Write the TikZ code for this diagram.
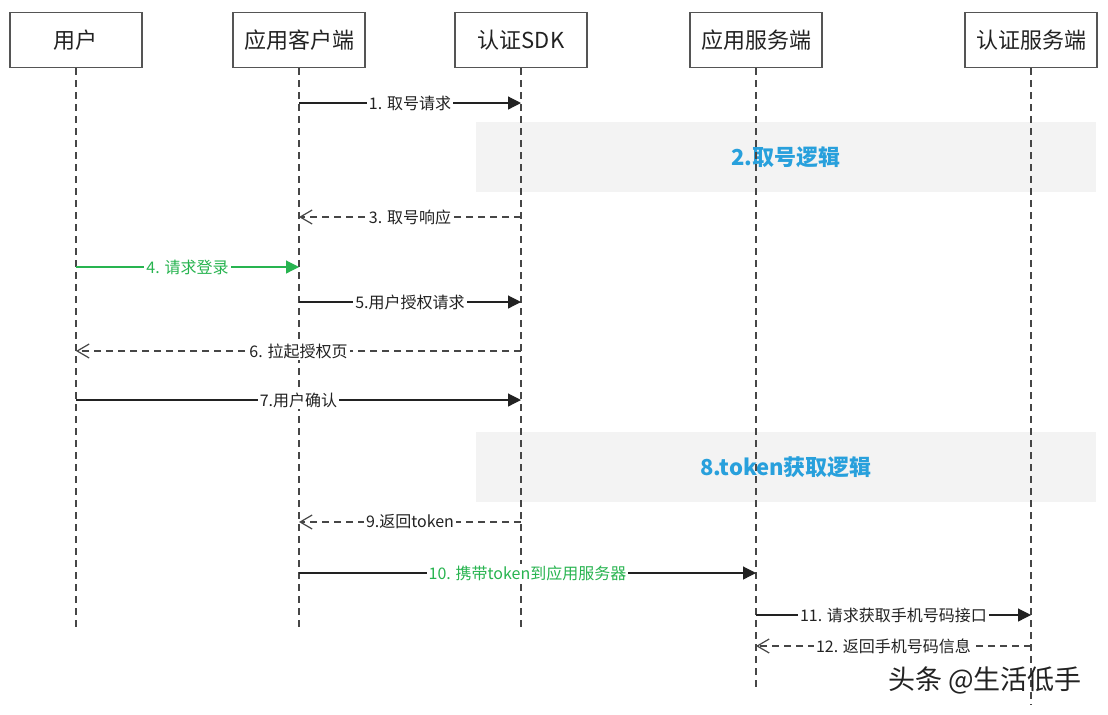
\documentclass[tikz,border=0pt]{standalone}
\usepackage{fontspec}
\setmainfont{Noto Sans CJK SC}
\usetikzlibrary{arrows.meta}

\begin{document}
\begin{tikzpicture}[x=0.5pt, y=-0.5pt,
    actor/.style={draw=boxline, line width=0.7pt, fill=white, minimum width=66pt,
      minimum height=27.5pt, inner sep=0pt, text=textcol, font=\fontsize{11}{12}\selectfont},
    lifeline/.style={draw=lifecol, line width=0.6pt, dash pattern=on 3.5pt off 2.5pt},
    call/.style={draw=textcol, line width=0.6pt, -{Triangle[length=6.5pt, width=6.5pt]}},
    reply/.style={draw=lifecol, line width=0.6pt, dash pattern=on 3.5pt off 2.5pt,
      -{Straight Barb[length=6pt, width=7pt, line width=0.6pt]}},
    lbl/.style={fill=white, inner sep=1pt, text=textcol, font=\fontsize{8}{9}\selectfont},
    band/.style={fill=bandgray},
    note/.style={text=notecol, font=\fontsize{11}{12}\selectfont\bfseries},
    watermark/.style={text=textcol, font=\fontsize{13.5}{14}\selectfont}]

    % Define the colors
    \definecolor{boxline}{RGB}{85, 85, 85}
    \definecolor{textcol}{RGB}{34, 34, 34}
    \definecolor{lifecol}{RGB}{70, 70, 70}
    \definecolor{bandgray}{RGB}{243, 243, 243}
    \definecolor{notecol}{RGB}{40, 160, 220}
    \definecolor{greencol}{RGB}{40, 180, 80}

    % Page and its margins
    \fill[white] (0,0) rectangle (1108,714);
    \useasboundingbox (0,0) rectangle (1108,714);

    % Draw the logic bands
    \fill[band] (476,122) rectangle (1096,192);
    \fill[band] (476,432) rectangle (1096,502);
    \node[note] (logic1) at (786,157) {2.取号逻辑};
    \node[note] (logic2) at (786,467) {8.token获取逻辑};

    % Draw the participants
    \node[actor] (user) at (76,40) {用户};
    \node[actor] (client) at (299,40) {应用客户端};
    \node[actor] (sdk) at (521,40) {认证SDK};
    \node[actor] (appsrv) at (756,40) {应用服务端};
    \node[actor] (authsrv) at (1031,40) {认证服务端};

    % Draw the lifelines
    \coordinate (userend) at (76,630);
    \coordinate (clientend) at (299,630);
    \coordinate (sdkend) at (521,630);
    \coordinate (appsrvend) at (756,690);
    \coordinate (authsrvend) at (1031,705);
    \draw[lifeline] (user.south) -- (userend);
    \draw[lifeline] (client.south) -- (clientend);
    \draw[lifeline] (sdk.south) -- (sdkend);
    \draw[lifeline] (appsrv.south) -- (appsrvend);
    \draw[lifeline] (authsrv.south) -- (authsrvend);

    % Message rows
    \coordinate (m1) at (0,103);
    \coordinate (m3) at (0,217);
    \coordinate (m4) at (0,267);
    \coordinate (m5) at (0,302);
    \coordinate (m6) at (0,351);
    \coordinate (m7) at (0,400);
    \coordinate (m9) at (0,522);
    \coordinate (m10) at (0,573);
    \coordinate (m11) at (0,615);
    \coordinate (m12) at (0,646);

    % Draw the messages
    \draw[call] (client |- m1) -- node[lbl] {1. 取号请求} (sdk |- m1);
    \draw[reply] (sdk |- m3) -- node[lbl] {3. 取号响应} (client |- m3);
    \draw[call, draw=greencol, -{Triangle[length=6.5pt, width=6.5pt, fill=greencol]}]
      (user |- m4) -- node[lbl, text=greencol] {4. 请求登录} (client |- m4);
    \draw[call] (client |- m5) -- node[lbl] {5.用户授权请求} (sdk |- m5);
    \draw[reply] (sdk |- m6) -- node[lbl] {6. 拉起授权页} (user |- m6);
    \draw[call] (user |- m7) -- node[lbl] {7.用户确认} (sdk |- m7);
    \draw[reply] (sdk |- m9) -- node[lbl] {9.返回token} (client |- m9);
    \draw[call] (client |- m10) -- node[lbl, text=greencol] {10. 携带token到应用服务器} (appsrv |- m10);
    \draw[call] (appsrv |- m11) -- node[lbl] {11. 请求获取手机号码接口} (authsrv |- m11);
    \draw[reply] (authsrv |- m12) -- node[lbl] {12. 返回手机号码信息} (appsrv |- m12);

    % Watermark
    \node[watermark] (wm) at (985,680) {头条 @生活低手};
\end{tikzpicture}
\end{document}
